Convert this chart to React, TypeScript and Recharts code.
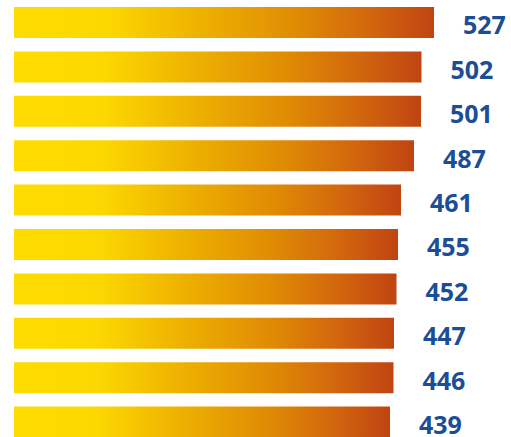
import { BarChart, Bar, XAxis, YAxis, LabelList } from 'recharts';

const categories = ['r1', 'r2', 'r3', 'r4', 'r5', 'r6', 'r7', 'r8', 'r9', 'r10'];
const scores = [527, 502, 501, 487, 461, 455, 452, 447, 446, 439];
// truncated axis: bars start from the left edge of the plot
const axisMin = -313;
const axisMax = 527;

const data = categories.map((name, i) => ({ name, value: scores[i], range: [axisMin, scores[i]] }));

export default function App() {
  return (
    <div
      style={{
        position: 'absolute',
        left: 0,
        top: 0,
        width: 511,
        height: 437,
        overflow: 'hidden',
        background: '#ffffff',
      }}
    >
      <BarChart
        width={511}
        height={444}
        data={data}
        layout="vertical"
        margin={{ top: 0, right: 77, bottom: 0, left: 14 }}
        barSize={31}
      >
        <defs>
          <linearGradient id="barFill" x1="0" y1="0" x2="1" y2="0">
            <stop offset="0%" stopColor="#FFDC00" />
            <stop offset="22%" stopColor="#FDD800" />
            <stop offset="45%" stopColor="#EDB000" />
            <stop offset="68%" stopColor="#DF8A04" />
            <stop offset="85%" stopColor="#D2660E" />
            <stop offset="100%" stopColor="#C04412" />
          </linearGradient>
        </defs>
        <XAxis type="number" domain={[axisMin, axisMax]} allowDataOverflow hide />
        <YAxis type="category" dataKey="name" hide />
        <Bar dataKey="range" fill="url(#barFill)" isAnimationActive={false}>
          <LabelList
            dataKey="value"
            position="right"
            offset={29}
            fill="#1B4E96"
            fontSize={25}
            fontWeight={700}
            fontFamily="Noto Sans, sans-serif"
            dy={3}
          />
        </Bar>
      </BarChart>
    </div>
  );
}
